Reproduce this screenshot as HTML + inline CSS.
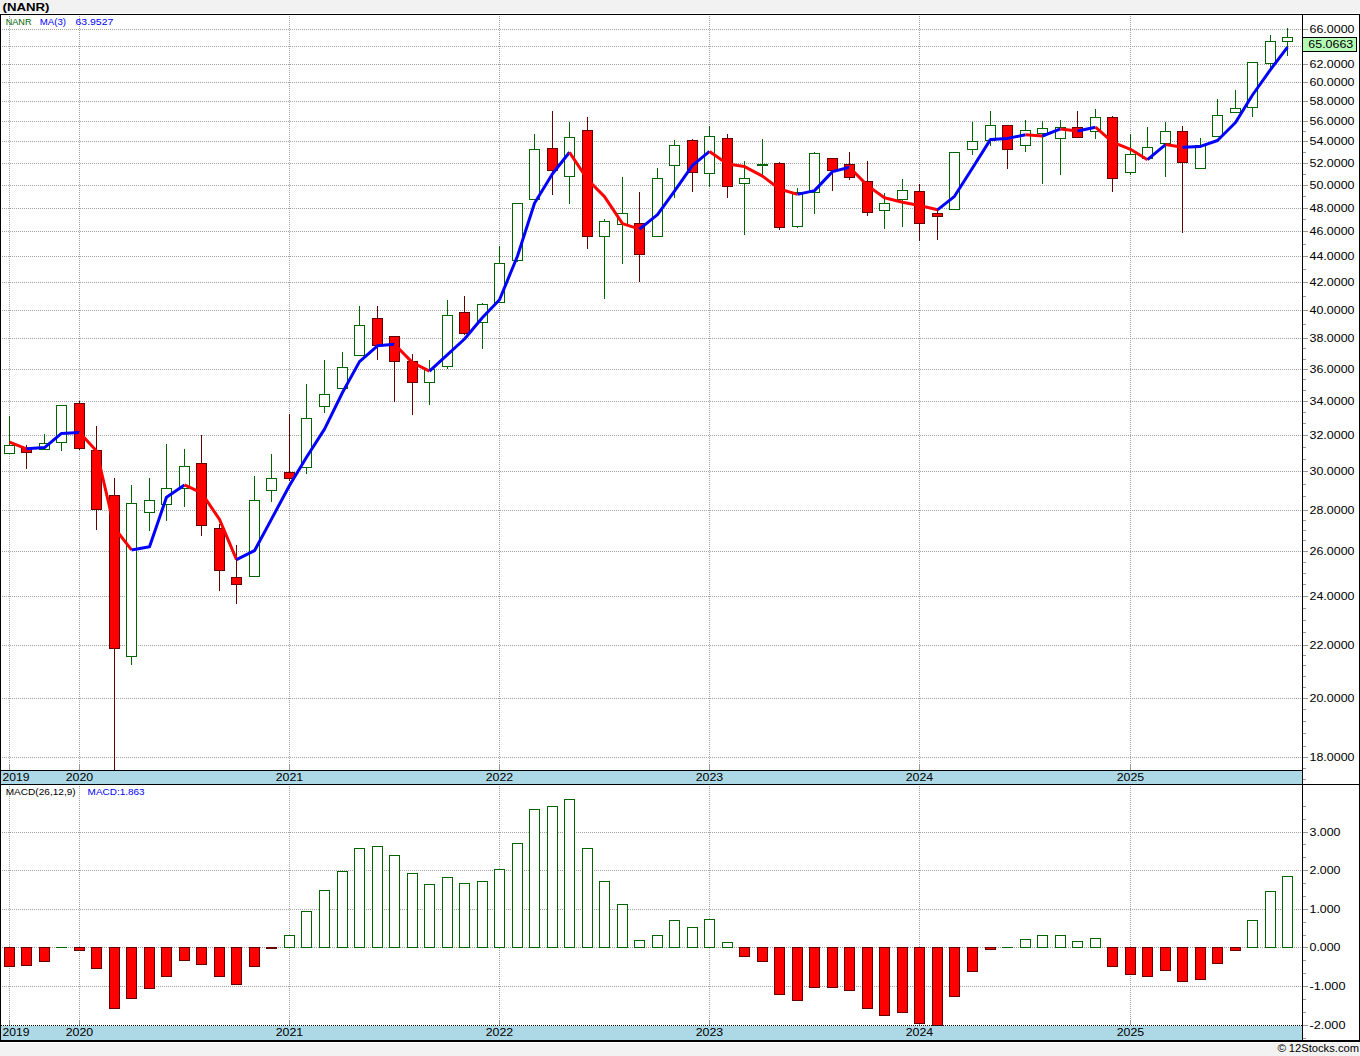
<!DOCTYPE html>
<html><head><meta charset="utf-8"><title>NANR</title>
<style>html,body{margin:0;padding:0;background:#f2f2f2;}svg{display:block}text{font-family:"Liberation Sans",sans-serif;}</style>
</head><body>
<svg width="1360" height="1056" viewBox="0 0 1360 1056">
<rect x="0" y="0" width="1360" height="1056" fill="#f2f2f2" />
<rect x="0" y="13" width="1360" height="1030" fill="#fff" />
<rect x="1" y="771" width="1301" height="13" fill="#add8e6" />
<rect x="1" y="1026" width="1301" height="14" fill="#add8e6" />
<g shape-rendering="crispEdges">
<line x1="0" y1="757.5" x2="1302" y2="757.5" stroke="#a0a0a0" stroke-width="1" stroke-dasharray="1 1"/>
<line x1="0" y1="698.5" x2="1302" y2="698.5" stroke="#a0a0a0" stroke-width="1" stroke-dasharray="1 1"/>
<line x1="0" y1="645.5" x2="1302" y2="645.5" stroke="#a0a0a0" stroke-width="1" stroke-dasharray="1 1"/>
<line x1="0" y1="596.5" x2="1302" y2="596.5" stroke="#a0a0a0" stroke-width="1" stroke-dasharray="1 1"/>
<line x1="0" y1="551.5" x2="1302" y2="551.5" stroke="#a0a0a0" stroke-width="1" stroke-dasharray="1 1"/>
<line x1="0" y1="510.5" x2="1302" y2="510.5" stroke="#a0a0a0" stroke-width="1" stroke-dasharray="1 1"/>
<line x1="0" y1="471.5" x2="1302" y2="471.5" stroke="#a0a0a0" stroke-width="1" stroke-dasharray="1 1"/>
<line x1="0" y1="435.5" x2="1302" y2="435.5" stroke="#a0a0a0" stroke-width="1" stroke-dasharray="1 1"/>
<line x1="0" y1="401.5" x2="1302" y2="401.5" stroke="#a0a0a0" stroke-width="1" stroke-dasharray="1 1"/>
<line x1="0" y1="369.5" x2="1302" y2="369.5" stroke="#a0a0a0" stroke-width="1" stroke-dasharray="1 1"/>
<line x1="0" y1="338.5" x2="1302" y2="338.5" stroke="#a0a0a0" stroke-width="1" stroke-dasharray="1 1"/>
<line x1="0" y1="310.5" x2="1302" y2="310.5" stroke="#a0a0a0" stroke-width="1" stroke-dasharray="1 1"/>
<line x1="0" y1="282.5" x2="1302" y2="282.5" stroke="#a0a0a0" stroke-width="1" stroke-dasharray="1 1"/>
<line x1="0" y1="256.5" x2="1302" y2="256.5" stroke="#a0a0a0" stroke-width="1" stroke-dasharray="1 1"/>
<line x1="0" y1="231.5" x2="1302" y2="231.5" stroke="#a0a0a0" stroke-width="1" stroke-dasharray="1 1"/>
<line x1="0" y1="208.5" x2="1302" y2="208.5" stroke="#a0a0a0" stroke-width="1" stroke-dasharray="1 1"/>
<line x1="0" y1="185.5" x2="1302" y2="185.5" stroke="#a0a0a0" stroke-width="1" stroke-dasharray="1 1"/>
<line x1="0" y1="163.5" x2="1302" y2="163.5" stroke="#a0a0a0" stroke-width="1" stroke-dasharray="1 1"/>
<line x1="0" y1="141.5" x2="1302" y2="141.5" stroke="#a0a0a0" stroke-width="1" stroke-dasharray="1 1"/>
<line x1="0" y1="121.5" x2="1302" y2="121.5" stroke="#a0a0a0" stroke-width="1" stroke-dasharray="1 1"/>
<line x1="0" y1="101.5" x2="1302" y2="101.5" stroke="#a0a0a0" stroke-width="1" stroke-dasharray="1 1"/>
<line x1="0" y1="82.5" x2="1302" y2="82.5" stroke="#a0a0a0" stroke-width="1" stroke-dasharray="1 1"/>
<line x1="0" y1="64.5" x2="1302" y2="64.5" stroke="#a0a0a0" stroke-width="1" stroke-dasharray="1 1"/>
<line x1="0" y1="46.5" x2="1302" y2="46.5" stroke="#a0a0a0" stroke-width="1" stroke-dasharray="1 1"/>
<line x1="0" y1="29.5" x2="1302" y2="29.5" stroke="#a0a0a0" stroke-width="1" stroke-dasharray="1 1"/>
<line x1="9.5" y1="16" x2="9.5" y2="764" stroke="#a0a0a0" stroke-width="1" stroke-dasharray="1 1"/>
<rect x="9" y="764" width="1" height="6" fill="#999999" />
<line x1="9.5" y1="786" x2="9.5" y2="1020" stroke="#a0a0a0" stroke-width="1" stroke-dasharray="1 1"/>
<rect x="9" y="1020" width="1" height="5" fill="#999999" />
<line x1="79.5" y1="16" x2="79.5" y2="764" stroke="#a0a0a0" stroke-width="1" stroke-dasharray="1 1"/>
<rect x="79" y="764" width="1" height="6" fill="#999999" />
<line x1="79.5" y1="786" x2="79.5" y2="1020" stroke="#a0a0a0" stroke-width="1" stroke-dasharray="1 1"/>
<rect x="79" y="1020" width="1" height="5" fill="#999999" />
<line x1="289.5" y1="16" x2="289.5" y2="764" stroke="#a0a0a0" stroke-width="1" stroke-dasharray="1 1"/>
<rect x="289" y="764" width="1" height="6" fill="#999999" />
<line x1="289.5" y1="786" x2="289.5" y2="1020" stroke="#a0a0a0" stroke-width="1" stroke-dasharray="1 1"/>
<rect x="289" y="1020" width="1" height="5" fill="#999999" />
<line x1="499.5" y1="16" x2="499.5" y2="764" stroke="#a0a0a0" stroke-width="1" stroke-dasharray="1 1"/>
<rect x="499" y="764" width="1" height="6" fill="#999999" />
<line x1="499.5" y1="786" x2="499.5" y2="1020" stroke="#a0a0a0" stroke-width="1" stroke-dasharray="1 1"/>
<rect x="499" y="1020" width="1" height="5" fill="#999999" />
<line x1="709.5" y1="16" x2="709.5" y2="764" stroke="#a0a0a0" stroke-width="1" stroke-dasharray="1 1"/>
<rect x="709" y="764" width="1" height="6" fill="#999999" />
<line x1="709.5" y1="786" x2="709.5" y2="1020" stroke="#a0a0a0" stroke-width="1" stroke-dasharray="1 1"/>
<rect x="709" y="1020" width="1" height="5" fill="#999999" />
<line x1="919.5" y1="16" x2="919.5" y2="764" stroke="#a0a0a0" stroke-width="1" stroke-dasharray="1 1"/>
<rect x="919" y="764" width="1" height="6" fill="#999999" />
<line x1="919.5" y1="786" x2="919.5" y2="1020" stroke="#a0a0a0" stroke-width="1" stroke-dasharray="1 1"/>
<rect x="919" y="1020" width="1" height="5" fill="#999999" />
<line x1="1130.5" y1="16" x2="1130.5" y2="764" stroke="#a0a0a0" stroke-width="1" stroke-dasharray="1 1"/>
<rect x="1130" y="764" width="1" height="6" fill="#999999" />
<line x1="1130.5" y1="786" x2="1130.5" y2="1020" stroke="#a0a0a0" stroke-width="1" stroke-dasharray="1 1"/>
<rect x="1130" y="1020" width="1" height="5" fill="#999999" />
<line x1="0" y1="832.5" x2="1302" y2="832.5" stroke="#a0a0a0" stroke-width="1" stroke-dasharray="1 1"/>
<line x1="0" y1="870.5" x2="1302" y2="870.5" stroke="#a0a0a0" stroke-width="1" stroke-dasharray="1 1"/>
<line x1="0" y1="909.5" x2="1302" y2="909.5" stroke="#a0a0a0" stroke-width="1" stroke-dasharray="1 1"/>
<line x1="0" y1="947.5" x2="1302" y2="947.5" stroke="#a0a0a0" stroke-width="1" stroke-dasharray="1 1"/>
<line x1="0" y1="986.5" x2="1302" y2="986.5" stroke="#a0a0a0" stroke-width="1" stroke-dasharray="1 1"/>
</g>
<g shape-rendering="crispEdges">
<rect x="9" y="416" width="1" height="38" fill="#006400" />
<rect x="4.5" y="445.5" width="10" height="8" fill="#fff" stroke="#006400" stroke-width="1"/>
<rect x="26" y="445" width="1" height="24" fill="#640000" />
<rect x="21.5" y="448.5" width="10" height="4" fill="#ff0000" stroke="#640000" stroke-width="1"/>
<rect x="44" y="434" width="1" height="16" fill="#006400" />
<rect x="39.5" y="443.5" width="10" height="6" fill="#fff" stroke="#006400" stroke-width="1"/>
<rect x="61" y="405" width="1" height="46" fill="#006400" />
<rect x="56.5" y="405.5" width="10" height="37" fill="#fff" stroke="#006400" stroke-width="1"/>
<rect x="79" y="401" width="1" height="49" fill="#640000" />
<rect x="74.5" y="403.5" width="10" height="45" fill="#ff0000" stroke="#640000" stroke-width="1"/>
<rect x="96" y="426" width="1" height="104" fill="#640000" />
<rect x="91.5" y="450.5" width="10" height="59" fill="#ff0000" stroke="#640000" stroke-width="1"/>
<rect x="114" y="478" width="1" height="292" fill="#640000" />
<rect x="109.5" y="495.5" width="10" height="153" fill="#ff0000" stroke="#640000" stroke-width="1"/>
<rect x="131" y="485" width="1" height="180" fill="#006400" />
<rect x="126.5" y="503.5" width="10" height="153" fill="#fff" stroke="#006400" stroke-width="1"/>
<rect x="149" y="478" width="1" height="53" fill="#006400" />
<rect x="144.5" y="500.5" width="10" height="12" fill="#fff" stroke="#006400" stroke-width="1"/>
<rect x="166" y="444" width="1" height="77" fill="#006400" />
<rect x="161.5" y="488.5" width="10" height="16" fill="#fff" stroke="#006400" stroke-width="1"/>
<rect x="184" y="449" width="1" height="58" fill="#006400" />
<rect x="179.5" y="466.5" width="10" height="22" fill="#fff" stroke="#006400" stroke-width="1"/>
<rect x="201" y="435" width="1" height="101" fill="#640000" />
<rect x="196.5" y="463.5" width="10" height="62" fill="#ff0000" stroke="#640000" stroke-width="1"/>
<rect x="219" y="524" width="1" height="67" fill="#640000" />
<rect x="214.5" y="528.5" width="10" height="42" fill="#ff0000" stroke="#640000" stroke-width="1"/>
<rect x="236" y="545" width="1" height="59" fill="#640000" />
<rect x="231.5" y="577.5" width="10" height="7" fill="#ff0000" stroke="#640000" stroke-width="1"/>
<rect x="254" y="476" width="1" height="101" fill="#006400" />
<rect x="249.5" y="500.5" width="10" height="76" fill="#fff" stroke="#006400" stroke-width="1"/>
<rect x="271" y="454" width="1" height="48" fill="#006400" />
<rect x="266.5" y="478.5" width="10" height="12" fill="#fff" stroke="#006400" stroke-width="1"/>
<rect x="289" y="414" width="1" height="67" fill="#640000" />
<rect x="284.5" y="472.5" width="10" height="6" fill="#ff0000" stroke="#640000" stroke-width="1"/>
<rect x="306" y="384" width="1" height="90" fill="#006400" />
<rect x="301.5" y="418.5" width="10" height="49" fill="#fff" stroke="#006400" stroke-width="1"/>
<rect x="324" y="360" width="1" height="53" fill="#006400" />
<rect x="319.5" y="394.5" width="10" height="12" fill="#fff" stroke="#006400" stroke-width="1"/>
<rect x="342" y="352" width="1" height="37" fill="#006400" />
<rect x="337.5" y="367.5" width="10" height="21" fill="#fff" stroke="#006400" stroke-width="1"/>
<rect x="359" y="306" width="1" height="50" fill="#006400" />
<rect x="354.5" y="325.5" width="10" height="30" fill="#fff" stroke="#006400" stroke-width="1"/>
<rect x="377" y="306" width="1" height="54" fill="#640000" />
<rect x="372.5" y="318.5" width="10" height="27" fill="#ff0000" stroke="#640000" stroke-width="1"/>
<rect x="394" y="336" width="1" height="66" fill="#640000" />
<rect x="389.5" y="336.5" width="10" height="25" fill="#ff0000" stroke="#640000" stroke-width="1"/>
<rect x="412" y="354" width="1" height="61" fill="#640000" />
<rect x="407.5" y="361.5" width="10" height="21" fill="#ff0000" stroke="#640000" stroke-width="1"/>
<rect x="429" y="360" width="1" height="45" fill="#006400" />
<rect x="424.5" y="369.5" width="10" height="13" fill="#fff" stroke="#006400" stroke-width="1"/>
<rect x="447" y="300" width="1" height="69" fill="#006400" />
<rect x="442.5" y="315.5" width="10" height="51" fill="#fff" stroke="#006400" stroke-width="1"/>
<rect x="464" y="296" width="1" height="39" fill="#640000" />
<rect x="459.5" y="312.5" width="10" height="21" fill="#ff0000" stroke="#640000" stroke-width="1"/>
<rect x="482" y="303" width="1" height="46" fill="#006400" />
<rect x="477.5" y="304.5" width="10" height="18" fill="#fff" stroke="#006400" stroke-width="1"/>
<rect x="499" y="246" width="1" height="57" fill="#006400" />
<rect x="494.5" y="263.5" width="10" height="39" fill="#fff" stroke="#006400" stroke-width="1"/>
<rect x="517" y="203" width="1" height="59" fill="#006400" />
<rect x="512.5" y="203.5" width="10" height="57" fill="#fff" stroke="#006400" stroke-width="1"/>
<rect x="534" y="134" width="1" height="66" fill="#006400" />
<rect x="529.5" y="149.5" width="10" height="50" fill="#fff" stroke="#006400" stroke-width="1"/>
<rect x="552" y="111" width="1" height="84" fill="#640000" />
<rect x="547.5" y="148.5" width="10" height="22" fill="#ff0000" stroke="#640000" stroke-width="1"/>
<rect x="569" y="122" width="1" height="82" fill="#006400" />
<rect x="564.5" y="137.5" width="10" height="39" fill="#fff" stroke="#006400" stroke-width="1"/>
<rect x="587" y="117" width="1" height="132" fill="#640000" />
<rect x="582.5" y="130.5" width="10" height="106" fill="#ff0000" stroke="#640000" stroke-width="1"/>
<rect x="604" y="219" width="1" height="80" fill="#006400" />
<rect x="599.5" y="221.5" width="10" height="15" fill="#fff" stroke="#006400" stroke-width="1"/>
<rect x="622" y="177" width="1" height="87" fill="#006400" />
<rect x="617.5" y="213.5" width="10" height="11" fill="#fff" stroke="#006400" stroke-width="1"/>
<rect x="639" y="192" width="1" height="90" fill="#640000" />
<rect x="634.5" y="223.5" width="10" height="31" fill="#ff0000" stroke="#640000" stroke-width="1"/>
<rect x="657" y="168" width="1" height="69" fill="#006400" />
<rect x="652.5" y="178.5" width="10" height="58" fill="#fff" stroke="#006400" stroke-width="1"/>
<rect x="674" y="140" width="1" height="58" fill="#006400" />
<rect x="669.5" y="145.5" width="10" height="20" fill="#fff" stroke="#006400" stroke-width="1"/>
<rect x="692" y="139" width="1" height="53" fill="#640000" />
<rect x="687.5" y="140.5" width="10" height="32" fill="#ff0000" stroke="#640000" stroke-width="1"/>
<rect x="709" y="126" width="1" height="61" fill="#006400" />
<rect x="704.5" y="136.5" width="10" height="37" fill="#fff" stroke="#006400" stroke-width="1"/>
<rect x="727" y="134" width="1" height="64" fill="#640000" />
<rect x="722.5" y="138.5" width="10" height="48" fill="#ff0000" stroke="#640000" stroke-width="1"/>
<rect x="744" y="161" width="1" height="74" fill="#006400" />
<rect x="739.5" y="178.5" width="10" height="5" fill="#fff" stroke="#006400" stroke-width="1"/>
<rect x="762" y="139" width="1" height="37" fill="#006400" />
<rect x="757" y="164" width="11" height="2" fill="#006400" />
<rect x="779" y="162" width="1" height="68" fill="#640000" />
<rect x="774.5" y="163.5" width="10" height="64" fill="#ff0000" stroke="#640000" stroke-width="1"/>
<rect x="797" y="188" width="1" height="40" fill="#006400" />
<rect x="792.5" y="192.5" width="10" height="34" fill="#fff" stroke="#006400" stroke-width="1"/>
<rect x="814" y="152" width="1" height="62" fill="#006400" />
<rect x="809.5" y="153.5" width="10" height="39" fill="#fff" stroke="#006400" stroke-width="1"/>
<rect x="832" y="158" width="1" height="33" fill="#640000" />
<rect x="827.5" y="158.5" width="10" height="12" fill="#ff0000" stroke="#640000" stroke-width="1"/>
<rect x="849" y="152" width="1" height="28" fill="#640000" />
<rect x="844.5" y="164.5" width="10" height="13" fill="#ff0000" stroke="#640000" stroke-width="1"/>
<rect x="867" y="161" width="1" height="55" fill="#640000" />
<rect x="862.5" y="181.5" width="10" height="31" fill="#ff0000" stroke="#640000" stroke-width="1"/>
<rect x="884" y="193" width="1" height="36" fill="#006400" />
<rect x="879.5" y="203.5" width="10" height="7" fill="#fff" stroke="#006400" stroke-width="1"/>
<rect x="902" y="179" width="1" height="48" fill="#006400" />
<rect x="897.5" y="190.5" width="10" height="9" fill="#fff" stroke="#006400" stroke-width="1"/>
<rect x="919" y="184" width="1" height="57" fill="#640000" />
<rect x="914.5" y="191.5" width="10" height="32" fill="#ff0000" stroke="#640000" stroke-width="1"/>
<rect x="937" y="209" width="1" height="31" fill="#640000" />
<rect x="932.5" y="213.5" width="10" height="3" fill="#ff0000" stroke="#640000" stroke-width="1"/>
<rect x="954" y="152" width="1" height="58" fill="#006400" />
<rect x="949.5" y="152.5" width="10" height="57" fill="#fff" stroke="#006400" stroke-width="1"/>
<rect x="972" y="122" width="1" height="33" fill="#006400" />
<rect x="967.5" y="141.5" width="10" height="8" fill="#fff" stroke="#006400" stroke-width="1"/>
<rect x="990" y="111" width="1" height="35" fill="#006400" />
<rect x="985.5" y="125.5" width="10" height="15" fill="#fff" stroke="#006400" stroke-width="1"/>
<rect x="1007" y="125" width="1" height="44" fill="#640000" />
<rect x="1002.5" y="125.5" width="10" height="24" fill="#ff0000" stroke="#640000" stroke-width="1"/>
<rect x="1025" y="120" width="1" height="32" fill="#006400" />
<rect x="1020.5" y="130.5" width="10" height="15" fill="#fff" stroke="#006400" stroke-width="1"/>
<rect x="1042" y="121" width="1" height="63" fill="#006400" />
<rect x="1037.5" y="128.5" width="10" height="5" fill="#fff" stroke="#006400" stroke-width="1"/>
<rect x="1060" y="120" width="1" height="55" fill="#006400" />
<rect x="1055.5" y="127.5" width="10" height="11" fill="#fff" stroke="#006400" stroke-width="1"/>
<rect x="1077" y="111" width="1" height="27" fill="#640000" />
<rect x="1072.5" y="127.5" width="10" height="10" fill="#ff0000" stroke="#640000" stroke-width="1"/>
<rect x="1095" y="109" width="1" height="30" fill="#006400" />
<rect x="1090.5" y="117.5" width="10" height="14" fill="#fff" stroke="#006400" stroke-width="1"/>
<rect x="1112" y="116" width="1" height="76" fill="#640000" />
<rect x="1107.5" y="117.5" width="10" height="61" fill="#ff0000" stroke="#640000" stroke-width="1"/>
<rect x="1130" y="134" width="1" height="41" fill="#006400" />
<rect x="1125.5" y="154.5" width="10" height="18" fill="#fff" stroke="#006400" stroke-width="1"/>
<rect x="1147" y="127" width="1" height="32" fill="#006400" />
<rect x="1142.5" y="147.5" width="10" height="11" fill="#fff" stroke="#006400" stroke-width="1"/>
<rect x="1165" y="122" width="1" height="55" fill="#006400" />
<rect x="1160.5" y="131.5" width="10" height="12" fill="#fff" stroke="#006400" stroke-width="1"/>
<rect x="1182" y="126" width="1" height="107" fill="#640000" />
<rect x="1177.5" y="131.5" width="10" height="31" fill="#ff0000" stroke="#640000" stroke-width="1"/>
<rect x="1200" y="138" width="1" height="31" fill="#006400" />
<rect x="1195.5" y="145.5" width="10" height="23" fill="#fff" stroke="#006400" stroke-width="1"/>
<rect x="1217" y="99" width="1" height="38" fill="#006400" />
<rect x="1212.5" y="115.5" width="10" height="21" fill="#fff" stroke="#006400" stroke-width="1"/>
<rect x="1235" y="90" width="1" height="23" fill="#006400" />
<rect x="1230.5" y="108.5" width="10" height="4" fill="#fff" stroke="#006400" stroke-width="1"/>
<rect x="1252" y="62" width="1" height="55" fill="#006400" />
<rect x="1247.5" y="62.5" width="10" height="45" fill="#fff" stroke="#006400" stroke-width="1"/>
<rect x="1270" y="35" width="1" height="33" fill="#006400" />
<rect x="1265.5" y="41.5" width="10" height="22" fill="#fff" stroke="#006400" stroke-width="1"/>
<rect x="1287" y="28" width="1" height="28" fill="#006400" />
<rect x="1282.5" y="37.5" width="10" height="4" fill="#fff" stroke="#006400" stroke-width="1"/>
</g>
<polyline points="9.5,442.2 26.5,448.8" fill="none" stroke="#ff0000" stroke-width="3" stroke-linejoin="round" stroke-linecap="butt"/>
<polyline points="26.5,448.8 44.5,447.6 61.5,433.4 79.5,432.6" fill="none" stroke="#0000ff" stroke-width="3" stroke-linejoin="round" stroke-linecap="butt"/>
<polyline points="79.5,432.6 96.5,451.0 114.5,528.0 131.5,549.9" fill="none" stroke="#ff0000" stroke-width="3" stroke-linejoin="round" stroke-linecap="butt"/>
<polyline points="131.5,549.9 149.5,546.7 166.5,497.3 184.5,484.9" fill="none" stroke="#0000ff" stroke-width="3" stroke-linejoin="round" stroke-linecap="butt"/>
<polyline points="184.5,484.9 201.5,492.9 219.5,519.3 236.5,559.6" fill="none" stroke="#ff0000" stroke-width="3" stroke-linejoin="round" stroke-linecap="butt"/>
<polyline points="236.5,559.6 254.5,550.7 271.5,519.1 289.5,485.5 306.5,457.2 324.5,429.1 342.5,392.5 359.5,361.6 377.5,345.8 394.5,344.3" fill="none" stroke="#0000ff" stroke-width="3" stroke-linejoin="round" stroke-linecap="butt"/>
<polyline points="394.5,344.3 412.5,362.6 429.5,371.1" fill="none" stroke="#ff0000" stroke-width="3" stroke-linejoin="round" stroke-linecap="butt"/>
<polyline points="429.5,371.1 447.5,354.7 464.5,339.0 482.5,317.5 499.5,299.8 517.5,256.0 534.5,203.3 552.5,173.8 569.5,152.3" fill="none" stroke="#0000ff" stroke-width="3" stroke-linejoin="round" stroke-linecap="butt"/>
<polyline points="569.5,152.3 587.5,179.5 604.5,196.6 622.5,223.6 639.5,229.1" fill="none" stroke="#ff0000" stroke-width="3" stroke-linejoin="round" stroke-linecap="butt"/>
<polyline points="639.5,229.1 657.5,214.7 674.5,191.1 692.5,165.4 709.5,151.4" fill="none" stroke="#0000ff" stroke-width="3" stroke-linejoin="round" stroke-linecap="butt"/>
<polyline points="709.5,151.4 727.5,164.1 744.5,166.6 762.5,176.1 779.5,189.0 797.5,194.4" fill="none" stroke="#ff0000" stroke-width="3" stroke-linejoin="round" stroke-linecap="butt"/>
<polyline points="797.5,194.4 814.5,190.6 832.5,171.6 849.5,167.2" fill="none" stroke="#0000ff" stroke-width="3" stroke-linejoin="round" stroke-linecap="butt"/>
<polyline points="849.5,167.2 867.5,185.6 884.5,197.8 902.5,202.2 919.5,205.5 937.5,209.8" fill="none" stroke="#ff0000" stroke-width="3" stroke-linejoin="round" stroke-linecap="butt"/>
<polyline points="937.5,209.8 954.5,196.3 972.5,168.0 990.5,139.4 1007.5,138.4 1025.5,134.8" fill="none" stroke="#0000ff" stroke-width="3" stroke-linejoin="round" stroke-linecap="butt"/>
<polyline points="1025.5,134.8 1042.5,136.0" fill="none" stroke="#ff0000" stroke-width="3" stroke-linejoin="round" stroke-linecap="butt"/>
<polyline points="1042.5,136.0 1060.5,128.9" fill="none" stroke="#0000ff" stroke-width="3" stroke-linejoin="round" stroke-linecap="butt"/>
<polyline points="1060.5,128.9 1077.5,131.0" fill="none" stroke="#ff0000" stroke-width="3" stroke-linejoin="round" stroke-linecap="butt"/>
<polyline points="1077.5,131.0 1095.5,127.2" fill="none" stroke="#0000ff" stroke-width="3" stroke-linejoin="round" stroke-linecap="butt"/>
<polyline points="1095.5,127.2 1112.5,142.2 1130.5,149.3 1147.5,159.7" fill="none" stroke="#ff0000" stroke-width="3" stroke-linejoin="round" stroke-linecap="butt"/>
<polyline points="1147.5,159.7 1165.5,144.6" fill="none" stroke="#0000ff" stroke-width="3" stroke-linejoin="round" stroke-linecap="butt"/>
<polyline points="1165.5,144.6 1182.5,147.2" fill="none" stroke="#ff0000" stroke-width="3" stroke-linejoin="round" stroke-linecap="butt"/>
<polyline points="1182.5,147.2 1200.5,146.4 1217.5,140.5 1235.5,122.5 1252.5,95.0 1270.5,69.6 1287.5,47.1" fill="none" stroke="#0000ff" stroke-width="3" stroke-linejoin="round" stroke-linecap="butt"/>
<g shape-rendering="crispEdges">
<rect x="4.5" y="947.5" width="10" height="19" fill="#ff0000" stroke="#640000" stroke-width="1"/>
<rect x="21.5" y="947.5" width="10" height="18" fill="#ff0000" stroke="#640000" stroke-width="1"/>
<rect x="39.5" y="947.5" width="10" height="14" fill="#ff0000" stroke="#640000" stroke-width="1"/>
<rect x="56" y="947" width="11" height="1" fill="#006400" />
<rect x="74.5" y="947.5" width="10" height="3" fill="#ff0000" stroke="#640000" stroke-width="1"/>
<rect x="91.5" y="947.5" width="10" height="21" fill="#ff0000" stroke="#640000" stroke-width="1"/>
<rect x="109.5" y="947.5" width="10" height="61" fill="#ff0000" stroke="#640000" stroke-width="1"/>
<rect x="126.5" y="947.5" width="10" height="51" fill="#ff0000" stroke="#640000" stroke-width="1"/>
<rect x="144.5" y="947.5" width="10" height="41" fill="#ff0000" stroke="#640000" stroke-width="1"/>
<rect x="161.5" y="947.5" width="10" height="29" fill="#ff0000" stroke="#640000" stroke-width="1"/>
<rect x="179.5" y="947.5" width="10" height="13" fill="#ff0000" stroke="#640000" stroke-width="1"/>
<rect x="196.5" y="947.5" width="10" height="17" fill="#ff0000" stroke="#640000" stroke-width="1"/>
<rect x="214.5" y="947.5" width="10" height="29" fill="#ff0000" stroke="#640000" stroke-width="1"/>
<rect x="231.5" y="947.5" width="10" height="37" fill="#ff0000" stroke="#640000" stroke-width="1"/>
<rect x="249.5" y="947.5" width="10" height="19" fill="#ff0000" stroke="#640000" stroke-width="1"/>
<rect x="266" y="947" width="11" height="2" fill="#640000" />
<rect x="284.5" y="935.5" width="10" height="12" fill="#fff" stroke="#006400" stroke-width="1"/>
<rect x="301.5" y="911.5" width="10" height="36" fill="#fff" stroke="#006400" stroke-width="1"/>
<rect x="319.5" y="890.5" width="10" height="57" fill="#fff" stroke="#006400" stroke-width="1"/>
<rect x="337.5" y="871.5" width="10" height="76" fill="#fff" stroke="#006400" stroke-width="1"/>
<rect x="354.5" y="848.5" width="10" height="99" fill="#fff" stroke="#006400" stroke-width="1"/>
<rect x="372.5" y="846.5" width="10" height="101" fill="#fff" stroke="#006400" stroke-width="1"/>
<rect x="389.5" y="855.5" width="10" height="92" fill="#fff" stroke="#006400" stroke-width="1"/>
<rect x="407.5" y="873.5" width="10" height="74" fill="#fff" stroke="#006400" stroke-width="1"/>
<rect x="424.5" y="884.5" width="10" height="63" fill="#fff" stroke="#006400" stroke-width="1"/>
<rect x="442.5" y="877.5" width="10" height="70" fill="#fff" stroke="#006400" stroke-width="1"/>
<rect x="459.5" y="883.5" width="10" height="64" fill="#fff" stroke="#006400" stroke-width="1"/>
<rect x="477.5" y="881.5" width="10" height="66" fill="#fff" stroke="#006400" stroke-width="1"/>
<rect x="494.5" y="869.5" width="10" height="78" fill="#fff" stroke="#006400" stroke-width="1"/>
<rect x="512.5" y="843.5" width="10" height="104" fill="#fff" stroke="#006400" stroke-width="1"/>
<rect x="529.5" y="809.5" width="10" height="138" fill="#fff" stroke="#006400" stroke-width="1"/>
<rect x="547.5" y="806.5" width="10" height="141" fill="#fff" stroke="#006400" stroke-width="1"/>
<rect x="564.5" y="799.5" width="10" height="148" fill="#fff" stroke="#006400" stroke-width="1"/>
<rect x="582.5" y="848.5" width="10" height="99" fill="#fff" stroke="#006400" stroke-width="1"/>
<rect x="599.5" y="881.5" width="10" height="66" fill="#fff" stroke="#006400" stroke-width="1"/>
<rect x="617.5" y="904.5" width="10" height="43" fill="#fff" stroke="#006400" stroke-width="1"/>
<rect x="634.5" y="940.5" width="10" height="7" fill="#fff" stroke="#006400" stroke-width="1"/>
<rect x="652.5" y="935.5" width="10" height="12" fill="#fff" stroke="#006400" stroke-width="1"/>
<rect x="669.5" y="920.5" width="10" height="27" fill="#fff" stroke="#006400" stroke-width="1"/>
<rect x="687.5" y="927.5" width="10" height="20" fill="#fff" stroke="#006400" stroke-width="1"/>
<rect x="704.5" y="919.5" width="10" height="28" fill="#fff" stroke="#006400" stroke-width="1"/>
<rect x="722.5" y="942.5" width="10" height="5" fill="#fff" stroke="#006400" stroke-width="1"/>
<rect x="739.5" y="947.5" width="10" height="9" fill="#ff0000" stroke="#640000" stroke-width="1"/>
<rect x="757.5" y="947.5" width="10" height="14" fill="#ff0000" stroke="#640000" stroke-width="1"/>
<rect x="774.5" y="947.5" width="10" height="47" fill="#ff0000" stroke="#640000" stroke-width="1"/>
<rect x="792.5" y="947.5" width="10" height="53" fill="#ff0000" stroke="#640000" stroke-width="1"/>
<rect x="809.5" y="947.5" width="10" height="40" fill="#ff0000" stroke="#640000" stroke-width="1"/>
<rect x="827.5" y="947.5" width="10" height="40" fill="#ff0000" stroke="#640000" stroke-width="1"/>
<rect x="844.5" y="947.5" width="10" height="43" fill="#ff0000" stroke="#640000" stroke-width="1"/>
<rect x="862.5" y="947.5" width="10" height="61" fill="#ff0000" stroke="#640000" stroke-width="1"/>
<rect x="879.5" y="947.5" width="10" height="68" fill="#ff0000" stroke="#640000" stroke-width="1"/>
<rect x="897.5" y="947.5" width="10" height="65" fill="#ff0000" stroke="#640000" stroke-width="1"/>
<rect x="914.5" y="947.5" width="10" height="76" fill="#ff0000" stroke="#640000" stroke-width="1"/>
<rect x="932.5" y="947.5" width="10" height="78" fill="#ff0000" stroke="#640000" stroke-width="1"/>
<rect x="949.5" y="947.5" width="10" height="49" fill="#ff0000" stroke="#640000" stroke-width="1"/>
<rect x="967.5" y="947.5" width="10" height="24" fill="#ff0000" stroke="#640000" stroke-width="1"/>
<rect x="985.5" y="947.5" width="10" height="2" fill="#ff0000" stroke="#640000" stroke-width="1"/>
<rect x="1002" y="947" width="11" height="1" fill="#006400" />
<rect x="1020.5" y="939.5" width="10" height="8" fill="#fff" stroke="#006400" stroke-width="1"/>
<rect x="1037.5" y="935.5" width="10" height="12" fill="#fff" stroke="#006400" stroke-width="1"/>
<rect x="1055.5" y="935.5" width="10" height="12" fill="#fff" stroke="#006400" stroke-width="1"/>
<rect x="1072.5" y="941.5" width="10" height="6" fill="#fff" stroke="#006400" stroke-width="1"/>
<rect x="1090.5" y="938.5" width="10" height="9" fill="#fff" stroke="#006400" stroke-width="1"/>
<rect x="1107.5" y="947.5" width="10" height="19" fill="#ff0000" stroke="#640000" stroke-width="1"/>
<rect x="1125.5" y="947.5" width="10" height="27" fill="#ff0000" stroke="#640000" stroke-width="1"/>
<rect x="1142.5" y="947.5" width="10" height="29" fill="#ff0000" stroke="#640000" stroke-width="1"/>
<rect x="1160.5" y="947.5" width="10" height="23" fill="#ff0000" stroke="#640000" stroke-width="1"/>
<rect x="1177.5" y="947.5" width="10" height="34" fill="#ff0000" stroke="#640000" stroke-width="1"/>
<rect x="1195.5" y="947.5" width="10" height="32" fill="#ff0000" stroke="#640000" stroke-width="1"/>
<rect x="1212.5" y="947.5" width="10" height="16" fill="#ff0000" stroke="#640000" stroke-width="1"/>
<rect x="1230.5" y="947.5" width="10" height="3" fill="#ff0000" stroke="#640000" stroke-width="1"/>
<rect x="1247.5" y="920.5" width="10" height="27" fill="#fff" stroke="#006400" stroke-width="1"/>
<rect x="1265.5" y="891.5" width="10" height="56" fill="#fff" stroke="#006400" stroke-width="1"/>
<rect x="1282.5" y="876.5" width="10" height="71" fill="#fff" stroke="#006400" stroke-width="1"/>
</g>
<g shape-rendering="crispEdges">
<rect x="0" y="14" width="1360" height="1" fill="#000" />
<rect x="0" y="14" width="1" height="1028" fill="#000" />
<rect x="1359" y="14" width="1" height="1028" fill="#000" />
<rect x="0" y="1040" width="1360" height="2" fill="#000" />
<rect x="1302" y="14" width="1" height="1028" fill="#000" />
<rect x="0" y="770" width="1303" height="1" fill="#000" />
<rect x="0" y="784" width="1360" height="1" fill="#000" />
<line x1="1" y1="1025.5" x2="1302" y2="1025.5" stroke="#000" stroke-width="1" stroke-dasharray="1 1"/>
<rect x="1303" y="757" width="5" height="1" fill="#999999" />
<rect x="1303" y="698" width="5" height="1" fill="#999999" />
<rect x="1303" y="645" width="5" height="1" fill="#999999" />
<rect x="1303" y="596" width="5" height="1" fill="#999999" />
<rect x="1303" y="551" width="5" height="1" fill="#999999" />
<rect x="1303" y="510" width="5" height="1" fill="#999999" />
<rect x="1303" y="471" width="5" height="1" fill="#999999" />
<rect x="1303" y="435" width="5" height="1" fill="#999999" />
<rect x="1303" y="401" width="5" height="1" fill="#999999" />
<rect x="1303" y="369" width="5" height="1" fill="#999999" />
<rect x="1303" y="338" width="5" height="1" fill="#999999" />
<rect x="1303" y="310" width="5" height="1" fill="#999999" />
<rect x="1303" y="282" width="5" height="1" fill="#999999" />
<rect x="1303" y="256" width="5" height="1" fill="#999999" />
<rect x="1303" y="231" width="5" height="1" fill="#999999" />
<rect x="1303" y="208" width="5" height="1" fill="#999999" />
<rect x="1303" y="185" width="5" height="1" fill="#999999" />
<rect x="1303" y="163" width="5" height="1" fill="#999999" />
<rect x="1303" y="141" width="5" height="1" fill="#999999" />
<rect x="1303" y="121" width="5" height="1" fill="#999999" />
<rect x="1303" y="101" width="5" height="1" fill="#999999" />
<rect x="1303" y="82" width="5" height="1" fill="#999999" />
<rect x="1303" y="64" width="5" height="1" fill="#999999" />
<rect x="1303" y="46" width="5" height="1" fill="#999999" />
<rect x="1303" y="29" width="5" height="1" fill="#999999" />
<rect x="1303" y="131" width="3" height="1" fill="#999999" />
<rect x="1303" y="152" width="3" height="1" fill="#999999" />
<rect x="1303" y="174" width="3" height="1" fill="#999999" />
<rect x="1303" y="196" width="3" height="1" fill="#999999" />
<rect x="1303" y="219" width="3" height="1" fill="#999999" />
<rect x="1303" y="244" width="3" height="1" fill="#999999" />
<rect x="1303" y="269" width="3" height="1" fill="#999999" />
<rect x="1303" y="296" width="3" height="1" fill="#999999" />
<rect x="1303" y="324" width="3" height="1" fill="#999999" />
<rect x="1303" y="348" width="3" height="1" fill="#999999" />
<rect x="1303" y="359" width="3" height="1" fill="#999999" />
<rect x="1303" y="379" width="3" height="1" fill="#999999" />
<rect x="1303" y="390" width="3" height="1" fill="#999999" />
<rect x="1303" y="412" width="3" height="1" fill="#999999" />
<rect x="1303" y="423" width="3" height="1" fill="#999999" />
<rect x="1303" y="447" width="3" height="1" fill="#999999" />
<rect x="1303" y="459" width="3" height="1" fill="#999999" />
<rect x="1303" y="484" width="3" height="1" fill="#999999" />
<rect x="1303" y="496" width="3" height="1" fill="#999999" />
<rect x="1303" y="520" width="3" height="1" fill="#999999" />
<rect x="1303" y="530" width="3" height="1" fill="#999999" />
<rect x="1303" y="540" width="3" height="1" fill="#999999" />
<rect x="1303" y="562" width="3" height="1" fill="#999999" />
<rect x="1303" y="573" width="3" height="1" fill="#999999" />
<rect x="1303" y="584" width="3" height="1" fill="#999999" />
<rect x="1303" y="608" width="3" height="1" fill="#999999" />
<rect x="1303" y="620" width="3" height="1" fill="#999999" />
<rect x="1303" y="632" width="3" height="1" fill="#999999" />
<rect x="1303" y="655" width="3" height="1" fill="#999999" />
<rect x="1303" y="665" width="3" height="1" fill="#999999" />
<rect x="1303" y="676" width="3" height="1" fill="#999999" />
<rect x="1303" y="687" width="3" height="1" fill="#999999" />
<rect x="1303" y="709" width="3" height="1" fill="#999999" />
<rect x="1303" y="721" width="3" height="1" fill="#999999" />
<rect x="1303" y="733" width="3" height="1" fill="#999999" />
<rect x="1303" y="746" width="3" height="1" fill="#999999" />
<rect x="1303" y="768" width="3" height="1" fill="#999999" />
<rect x="1303" y="779" width="3" height="1" fill="#999999" />
<rect x="1303" y="1038" width="3" height="1" fill="#999999" />
<rect x="1303" y="1025" width="5" height="1" fill="#999999" />
<rect x="1303" y="1012" width="3" height="1" fill="#999999" />
<rect x="1303" y="999" width="3" height="1" fill="#999999" />
<rect x="1303" y="986" width="5" height="1" fill="#999999" />
<rect x="1303" y="973" width="3" height="1" fill="#999999" />
<rect x="1303" y="960" width="3" height="1" fill="#999999" />
<rect x="1303" y="947" width="5" height="1" fill="#999999" />
<rect x="1303" y="935" width="3" height="1" fill="#999999" />
<rect x="1303" y="922" width="3" height="1" fill="#999999" />
<rect x="1303" y="909" width="5" height="1" fill="#999999" />
<rect x="1303" y="896" width="3" height="1" fill="#999999" />
<rect x="1303" y="883" width="3" height="1" fill="#999999" />
<rect x="1303" y="870" width="5" height="1" fill="#999999" />
<rect x="1303" y="857" width="3" height="1" fill="#999999" />
<rect x="1303" y="844" width="3" height="1" fill="#999999" />
<rect x="1303" y="832" width="5" height="1" fill="#999999" />
<rect x="1303" y="819" width="3" height="1" fill="#999999" />
<rect x="1303" y="806" width="3" height="1" fill="#999999" />
<rect x="1302" y="37" width="55" height="15" fill="#000" />
<rect x="1303" y="38" width="53" height="13" fill="#b4fcb4" />
</g>
<g font-family="Liberation Sans, sans-serif">
<text x="1309.5" y="761" font-size="11.4" fill="#000" font-weight="normal" text-anchor="start" textLength="45" lengthAdjust="spacingAndGlyphs">18.0000</text>
<text x="1309.5" y="702" font-size="11.4" fill="#000" font-weight="normal" text-anchor="start" textLength="45" lengthAdjust="spacingAndGlyphs">20.0000</text>
<text x="1309.5" y="649" font-size="11.4" fill="#000" font-weight="normal" text-anchor="start" textLength="45" lengthAdjust="spacingAndGlyphs">22.0000</text>
<text x="1309.5" y="600" font-size="11.4" fill="#000" font-weight="normal" text-anchor="start" textLength="45" lengthAdjust="spacingAndGlyphs">24.0000</text>
<text x="1309.5" y="555" font-size="11.4" fill="#000" font-weight="normal" text-anchor="start" textLength="45" lengthAdjust="spacingAndGlyphs">26.0000</text>
<text x="1309.5" y="514" font-size="11.4" fill="#000" font-weight="normal" text-anchor="start" textLength="45" lengthAdjust="spacingAndGlyphs">28.0000</text>
<text x="1309.5" y="475" font-size="11.4" fill="#000" font-weight="normal" text-anchor="start" textLength="45" lengthAdjust="spacingAndGlyphs">30.0000</text>
<text x="1309.5" y="439" font-size="11.4" fill="#000" font-weight="normal" text-anchor="start" textLength="45" lengthAdjust="spacingAndGlyphs">32.0000</text>
<text x="1309.5" y="405" font-size="11.4" fill="#000" font-weight="normal" text-anchor="start" textLength="45" lengthAdjust="spacingAndGlyphs">34.0000</text>
<text x="1309.5" y="373" font-size="11.4" fill="#000" font-weight="normal" text-anchor="start" textLength="45" lengthAdjust="spacingAndGlyphs">36.0000</text>
<text x="1309.5" y="342" font-size="11.4" fill="#000" font-weight="normal" text-anchor="start" textLength="45" lengthAdjust="spacingAndGlyphs">38.0000</text>
<text x="1309.5" y="314" font-size="11.4" fill="#000" font-weight="normal" text-anchor="start" textLength="45" lengthAdjust="spacingAndGlyphs">40.0000</text>
<text x="1309.5" y="286" font-size="11.4" fill="#000" font-weight="normal" text-anchor="start" textLength="45" lengthAdjust="spacingAndGlyphs">42.0000</text>
<text x="1309.5" y="260" font-size="11.4" fill="#000" font-weight="normal" text-anchor="start" textLength="45" lengthAdjust="spacingAndGlyphs">44.0000</text>
<text x="1309.5" y="235" font-size="11.4" fill="#000" font-weight="normal" text-anchor="start" textLength="45" lengthAdjust="spacingAndGlyphs">46.0000</text>
<text x="1309.5" y="212" font-size="11.4" fill="#000" font-weight="normal" text-anchor="start" textLength="45" lengthAdjust="spacingAndGlyphs">48.0000</text>
<text x="1309.5" y="189" font-size="11.4" fill="#000" font-weight="normal" text-anchor="start" textLength="45" lengthAdjust="spacingAndGlyphs">50.0000</text>
<text x="1309.5" y="167" font-size="11.4" fill="#000" font-weight="normal" text-anchor="start" textLength="45" lengthAdjust="spacingAndGlyphs">52.0000</text>
<text x="1309.5" y="145" font-size="11.4" fill="#000" font-weight="normal" text-anchor="start" textLength="45" lengthAdjust="spacingAndGlyphs">54.0000</text>
<text x="1309.5" y="125" font-size="11.4" fill="#000" font-weight="normal" text-anchor="start" textLength="45" lengthAdjust="spacingAndGlyphs">56.0000</text>
<text x="1309.5" y="105" font-size="11.4" fill="#000" font-weight="normal" text-anchor="start" textLength="45" lengthAdjust="spacingAndGlyphs">58.0000</text>
<text x="1309.5" y="86" font-size="11.4" fill="#000" font-weight="normal" text-anchor="start" textLength="45" lengthAdjust="spacingAndGlyphs">60.0000</text>
<text x="1309.5" y="68" font-size="11.4" fill="#000" font-weight="normal" text-anchor="start" textLength="45" lengthAdjust="spacingAndGlyphs">62.0000</text>
<text x="1309.5" y="33" font-size="11.4" fill="#000" font-weight="normal" text-anchor="start" textLength="45" lengthAdjust="spacingAndGlyphs">66.0000</text>
<text x="1308.3" y="48" font-size="11.4" fill="#000" font-weight="normal" text-anchor="start" textLength="45" lengthAdjust="spacingAndGlyphs">65.0663</text>
<text x="1309.5" y="836" font-size="11.4" fill="#000" font-weight="normal" text-anchor="start" textLength="31" lengthAdjust="spacingAndGlyphs">3.000</text>
<text x="1309.5" y="874" font-size="11.4" fill="#000" font-weight="normal" text-anchor="start" textLength="31" lengthAdjust="spacingAndGlyphs">2.000</text>
<text x="1309.5" y="913" font-size="11.4" fill="#000" font-weight="normal" text-anchor="start" textLength="31" lengthAdjust="spacingAndGlyphs">1.000</text>
<text x="1309.5" y="951" font-size="11.4" fill="#000" font-weight="normal" text-anchor="start" textLength="31" lengthAdjust="spacingAndGlyphs">0.000</text>
<text x="1309.5" y="990" font-size="11.4" fill="#000" font-weight="normal" text-anchor="start" textLength="36" lengthAdjust="spacingAndGlyphs">-1.000</text>
<text x="1309.5" y="1029" font-size="11.4" fill="#000" font-weight="normal" text-anchor="start" textLength="36" lengthAdjust="spacingAndGlyphs">-2.000</text>
<text x="2.5" y="781" font-size="11.6" fill="#000" font-weight="normal" text-anchor="start" textLength="27" lengthAdjust="spacingAndGlyphs">2019</text>
<text x="2.5" y="1036" font-size="11.6" fill="#000" font-weight="normal" text-anchor="start" textLength="27" lengthAdjust="spacingAndGlyphs">2019</text>
<text x="65.75" y="781" font-size="11.6" fill="#000" font-weight="normal" text-anchor="start" textLength="27.5" lengthAdjust="spacingAndGlyphs">2020</text>
<text x="65.75" y="1036" font-size="11.6" fill="#000" font-weight="normal" text-anchor="start" textLength="27.5" lengthAdjust="spacingAndGlyphs">2020</text>
<text x="275.75" y="781" font-size="11.6" fill="#000" font-weight="normal" text-anchor="start" textLength="27.5" lengthAdjust="spacingAndGlyphs">2021</text>
<text x="275.75" y="1036" font-size="11.6" fill="#000" font-weight="normal" text-anchor="start" textLength="27.5" lengthAdjust="spacingAndGlyphs">2021</text>
<text x="485.75" y="781" font-size="11.6" fill="#000" font-weight="normal" text-anchor="start" textLength="27.5" lengthAdjust="spacingAndGlyphs">2022</text>
<text x="485.75" y="1036" font-size="11.6" fill="#000" font-weight="normal" text-anchor="start" textLength="27.5" lengthAdjust="spacingAndGlyphs">2022</text>
<text x="695.75" y="781" font-size="11.6" fill="#000" font-weight="normal" text-anchor="start" textLength="27.5" lengthAdjust="spacingAndGlyphs">2023</text>
<text x="695.75" y="1036" font-size="11.6" fill="#000" font-weight="normal" text-anchor="start" textLength="27.5" lengthAdjust="spacingAndGlyphs">2023</text>
<text x="905.75" y="781" font-size="11.6" fill="#000" font-weight="normal" text-anchor="start" textLength="27.5" lengthAdjust="spacingAndGlyphs">2024</text>
<text x="905.75" y="1036" font-size="11.6" fill="#000" font-weight="normal" text-anchor="start" textLength="27.5" lengthAdjust="spacingAndGlyphs">2024</text>
<text x="1116.75" y="781" font-size="11.6" fill="#000" font-weight="normal" text-anchor="start" textLength="27.5" lengthAdjust="spacingAndGlyphs">2025</text>
<text x="1116.75" y="1036" font-size="11.6" fill="#000" font-weight="normal" text-anchor="start" textLength="27.5" lengthAdjust="spacingAndGlyphs">2025</text>
<text x="2.5" y="11" font-size="11.6" fill="#000" font-weight="bold" text-anchor="start" textLength="47" lengthAdjust="spacingAndGlyphs">(NANR)</text>
<text x="5.7" y="25" font-size="9.6" fill="#006400" font-weight="normal" text-anchor="start" textLength="25.8" lengthAdjust="spacingAndGlyphs">NANR</text>
<text x="39.7" y="25" font-size="9.6" fill="#0000ff" font-weight="normal" text-anchor="start" textLength="26.3" lengthAdjust="spacingAndGlyphs">MA(3)</text>
<text x="75.5" y="25" font-size="9.6" fill="#0000ff" font-weight="normal" text-anchor="start" textLength="37.8" lengthAdjust="spacingAndGlyphs">63.9527</text>
<text x="5.7" y="795" font-size="9.6" fill="#000" font-weight="normal" text-anchor="start" textLength="70" lengthAdjust="spacingAndGlyphs">MACD(26,12,9)</text>
<text x="87.6" y="795" font-size="9.6" fill="#0000ff" font-weight="normal" text-anchor="start" textLength="57" lengthAdjust="spacingAndGlyphs">MACD:1.863</text>
<text x="1277.6" y="1052" font-size="11.2" fill="#000" font-weight="normal" text-anchor="start" textLength="8.6" lengthAdjust="spacingAndGlyphs">©</text>
<text x="1288.7" y="1052" font-size="11.2" fill="#000" font-weight="normal" text-anchor="start" textLength="70.4" lengthAdjust="spacingAndGlyphs">12Stocks.com</text>
</g>
</svg>
</body></html>
